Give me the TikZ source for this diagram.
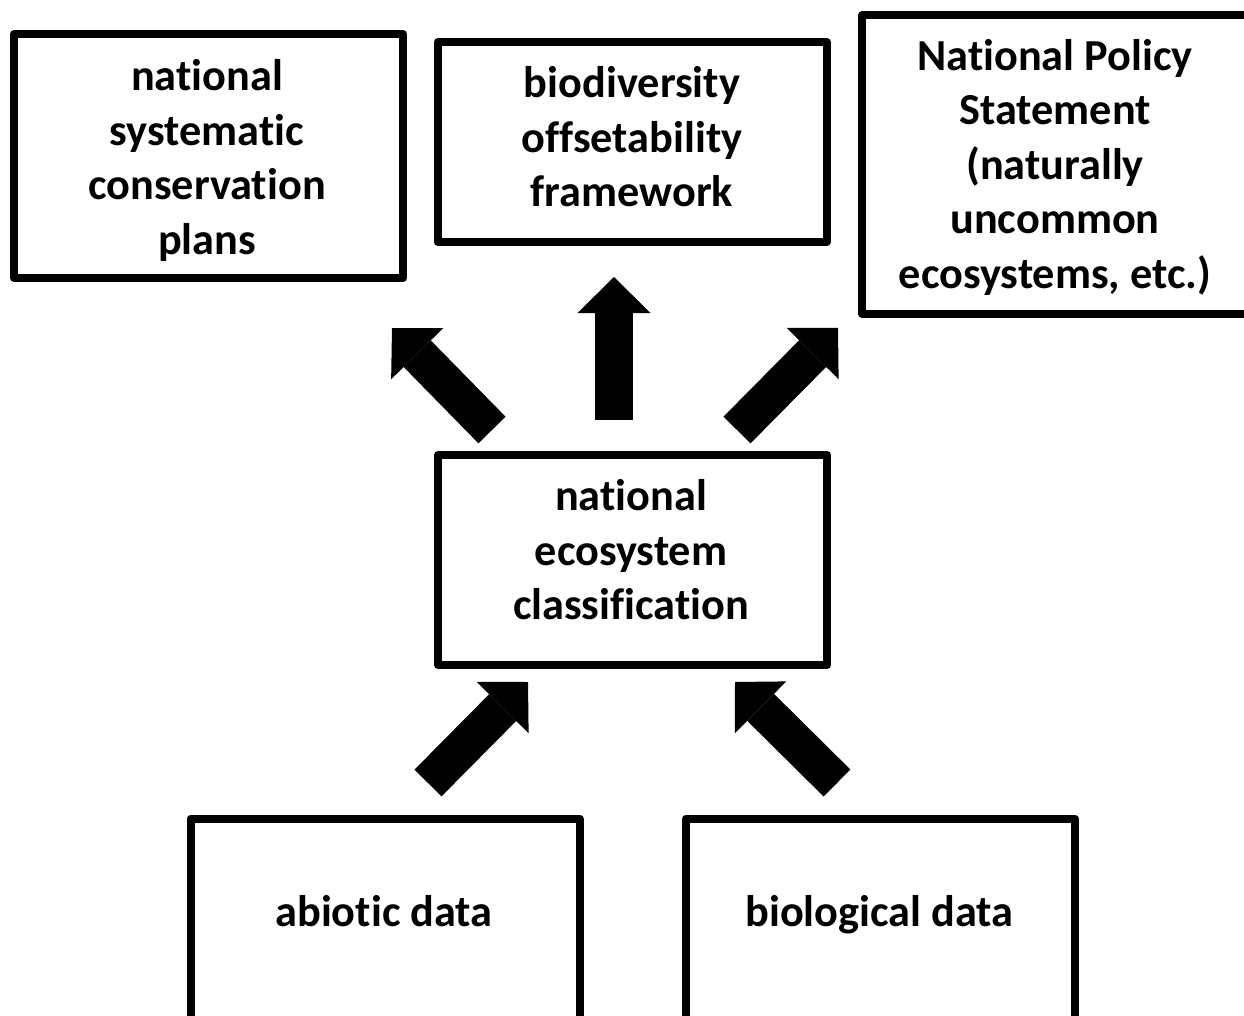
\documentclass[tikz,border=0pt]{standalone}
\usepackage{fontspec}
\setmainfont{Carlito}[Ligatures=NoCommon]
\usetikzlibrary{arrows.meta,positioning}

\tikzset{
  box/.style={draw, line width=8pt, line join=round, minimum width=389pt, inner sep=0pt},
  txt/.style={align=center, inner sep=0pt, font=\fontsize{44.3}{54.5}\selectfont\bfseries},
  fat/.style={line width=38pt, -{Triangle[width=73pt,length=36pt,line width=0pt]}},
}

\begin{document}
\begin{tikzpicture}[x=1pt,y=-1pt]
  \useasboundingbox (0,0) rectangle (1244,1016); %page
  \clip (0,0) rectangle (1244,1016);

  %Top row: what the classification feeds
  \node[box, minimum height=244pt] (plans) at (208.5,156) {};
  \node[txt] (planstxt) at (207,160.5) {national\\systematic\\conservation\\plans};
  \node[box, minimum height=200pt] (offset) at (632,142) {};
  \node[txt] (offsettxt) at (632,137) {biodiversity\\offsetability\\framework};
  \node[box, minimum height=298pt, minimum width=388pt] (nps) at (1056,164.5) {};
  \node[txt] (npstxt) at (1055,167) {National Policy\\Statement\\(naturally\\uncommon\\ecosystems, etc.)};

  %Middle: the classification itself
  \node[box, minimum height=210pt] (eco) at (632.5,560) {};
  \node[txt] (ecotxt) at (631,550) {national\\ecosystem\\classification};

  %Bottom row: input data (boxes run off the page)
  \node[box, minimum height=211pt] (abio) at (385,924) {};
  \node[txt, anchor=base] (abiotxt) at (384,926.5) {abiotic data};
  \node[box, minimum height=211pt] (bio) at (880.5,924) {};
  \node[txt, anchor=base] (biotxt) at (879.5,926.5) {biological data};

  %Arrow ends
  \coordinate (up1s) at (492,430);  \coordinate (up1e) at (392,328);
  \coordinate (up2s) at (614,420);  \coordinate (up2e) at (614,277);
  \coordinate (up3s) at (737,430);  \coordinate (up3e) at (838,328);
  \coordinate (in1s) at (428,783);  \coordinate (in1e) at (528,682);
  \coordinate (in2s) at (837,783);  \coordinate (in2e) at (735,682);

  %Draw the block arrows
  \draw[fat] (up1s) -- (up1e);
  \draw[fat] (up2s) -- (up2e);
  \draw[fat] (up3s) -- (up3e);
  \draw[fat] (in1s) -- (in1e);
  \draw[fat] (in2s) -- (in2e);
\end{tikzpicture}
\end{document}
